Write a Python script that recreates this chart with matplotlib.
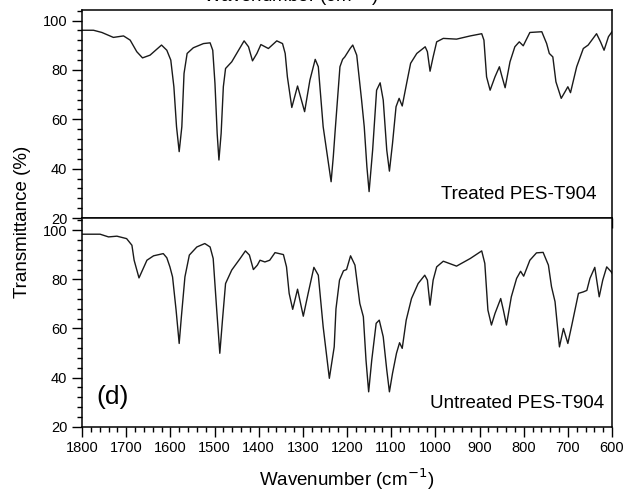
import matplotlib
matplotlib.use("Agg")
import matplotlib.pyplot as plt
from matplotlib.ticker import MultipleLocator

plt.rcParams["font.family"] = ["Liberation Sans", "DejaVu Sans"]

# Treated PES-T904 (top panel)
wn_treated = [1800, 1774, 1755, 1729, 1706, 1691, 1676, 1663, 1646, 1620, 1608, 1599,
              1592, 1586, 1580, 1574, 1569, 1562, 1548, 1525, 1510, 1504, 1499, 1494,
              1490, 1485, 1480, 1475, 1461, 1433, 1423, 1414, 1404, 1395, 1378, 1359,
              1346, 1340, 1335, 1325, 1312, 1296, 1284, 1272, 1265, 1254, 1236, 1231,
              1227, 1216, 1210, 1205, 1193, 1187, 1178, 1167, 1161, 1155, 1150, 1142,
              1133, 1125, 1118, 1110, 1104, 1097, 1089, 1082, 1075, 1065, 1056, 1042,
              1023, 1018, 1012, 1005, 997, 982, 952, 921, 895, 890, 884, 876, 865, 855,
              850, 842, 831, 820, 810, 801, 786, 759, 748, 742, 734, 727, 715, 705, 700,
              694, 680, 665, 654, 635, 626, 618, 608, 602, 600]
t_treated = [96.1, 96.1, 95.2, 93.2, 93.8, 92.1, 87.4, 84.9, 86.0, 90.1, 88.0, 84.0,
             73.2, 57.0, 46.9, 57.0, 78.6, 86.7, 89.0, 90.7, 91.0, 88.0, 74.6, 54.3,
             43.5, 54.3, 73.2, 80.6, 83.3, 91.8, 89.4, 83.7, 86.7, 90.3, 88.7, 91.8,
             90.7, 86.7, 77.2, 64.8, 73.5, 63.1, 75.9, 84.3, 81.3, 57.0, 34.7, 45.0,
             55.0, 81.3, 84.3, 85.3, 88.7, 90.1, 86.0, 67.8, 57.0, 40.8, 30.7, 47.5,
             71.8, 74.8, 67.8, 47.5, 39.0, 50.2, 65.1, 68.5, 65.4, 74.6, 82.7, 86.7,
             89.4, 87.4, 79.5, 85.3, 91.4, 92.8, 92.5, 93.8, 94.7, 92.1, 77.2, 71.8,
             77.2, 81.3, 77.9, 72.8, 83.3, 89.4, 91.4, 89.8, 95.2, 95.5, 90.7, 86.7,
             85.3, 75.2, 68.5, 71.6, 73.2, 70.8, 81.3, 88.7, 90.1, 94.7, 91.4, 88.0,
             93.5, 95.0, 95.5]

# Untreated PES-T904 (bottom panel)
wn_untreated = [1800, 1759, 1740, 1721, 1699, 1687, 1682, 1671, 1653, 1638, 1616, 1608,
                1601, 1595, 1587, 1580, 1575, 1567, 1557, 1540, 1522, 1510, 1503, 1495,
                1488, 1482, 1475, 1461, 1442, 1430, 1421, 1412, 1403, 1397, 1386, 1375,
                1363, 1344, 1337, 1331, 1323, 1312, 1299, 1288, 1275, 1265, 1254, 1240,
                1229, 1225, 1217, 1208, 1201, 1192, 1182, 1171, 1163, 1157, 1151, 1144,
                1134, 1127, 1118, 1110, 1104, 1097, 1088, 1081, 1075, 1066, 1054, 1039,
                1024, 1018, 1012, 1005, 997, 982, 952, 921, 895, 888, 881, 873, 865, 852,
                846, 839, 828, 816, 807, 800, 786, 771, 756, 744, 737, 729, 719, 710, 700,
                691, 676, 665, 657, 650, 639, 629, 621, 612, 602, 600]
t_untreated = [98.4, 98.4, 97.3, 97.6, 96.6, 93.9, 87.8, 80.6, 87.8, 89.6, 90.5, 88.8,
               85.1, 81.0, 67.5, 53.9, 64.8, 81.0, 89.9, 93.2, 94.6, 93.2, 88.5, 67.5,
               49.9, 63.4, 78.3, 83.8, 88.5, 91.6, 89.9, 84.0, 85.8, 87.8, 87.1, 87.8,
               90.9, 90.1, 85.1, 74.3, 67.8, 76.0, 65.0, 74.3, 84.9, 81.7, 60.7, 39.7,
               52.5, 68.0, 79.7, 83.5, 84.0, 89.6, 85.8, 70.2, 64.8, 47.1, 34.2, 47.1,
               62.1, 63.4, 56.6, 43.1, 34.2, 41.7, 49.9, 54.2, 51.9, 63.4, 72.2, 78.3,
               81.7, 79.7, 69.5, 79.7, 85.1, 87.4, 85.4, 88.5, 91.6, 86.5, 67.5, 61.4,
               66.1, 72.2, 67.5, 61.4, 72.9, 80.4, 83.3, 81.3, 87.8, 90.8, 91.0, 85.8,
               77.0, 70.9, 52.5, 60.0, 53.9, 61.4, 74.3, 74.9, 75.5, 80.4, 84.9, 72.9,
               79.7, 85.1, 83.1, 82.5]

fig = plt.figure(figsize=(6.27, 4.91), dpi=100)
ax1 = fig.add_axes([0.1308, 0.5560, 0.8453, 0.4246])
ax2 = fig.add_axes([0.1308, 0.1310, 0.8453, 0.4250])

ax1.plot(wn_treated, t_treated, color="#1a1a1a", lw=1.0)
ax2.plot(wn_untreated, t_untreated, color="#1a1a1a", lw=1.0)

for ax in (ax1, ax2):
    ax.set_xlim(1800, 600)
    ax.xaxis.set_major_locator(MultipleLocator(100))
    ax.xaxis.set_minor_locator(MultipleLocator(20))
    ax.yaxis.set_major_locator(MultipleLocator(20))
    ax.yaxis.set_minor_locator(MultipleLocator(4))
    ax.tick_params(which="major", direction="out", length=7, width=1.0, labelsize=10.5)
    ax.tick_params(which="minor", direction="out", length=3.5, width=1.0)
    for s in ax.spines.values():
        s.set_linewidth(1.1)

ax1.set_ylim(20, 104.5)
ax2.set_ylim(20, 105)
ax1.tick_params(axis="x", which="both", labelbottom=False)

ax2.set_xlabel("Wavenumber (cm$^{-1}$)", fontsize=13.5, labelpad=8)
fig.text(0.036, 0.548, "Transmittance (%)", rotation=90, fontsize=13.5,
         ha="center", va="center")

# top label cut off by the figure edge
fig.text(0.463, 1 - 2 / 491, "Wavenumber (cm$^{-1}$)", fontsize=13.5,
         ha="center", va="baseline")

ax1.text(0.97, 0.09, "Treated PES-T904", transform=ax1.transAxes,
         ha="right", va="baseline", fontsize=13.5)
ax2.text(0.985, 0.09, "Untreated PES-T904", transform=ax2.transAxes,
         ha="right", va="baseline", fontsize=13.5)
ax2.text(0.028, 0.11, "(d)", transform=ax2.transAxes,
         ha="left", va="baseline", fontsize=19)

fig.savefig("out.png", dpi=100)
